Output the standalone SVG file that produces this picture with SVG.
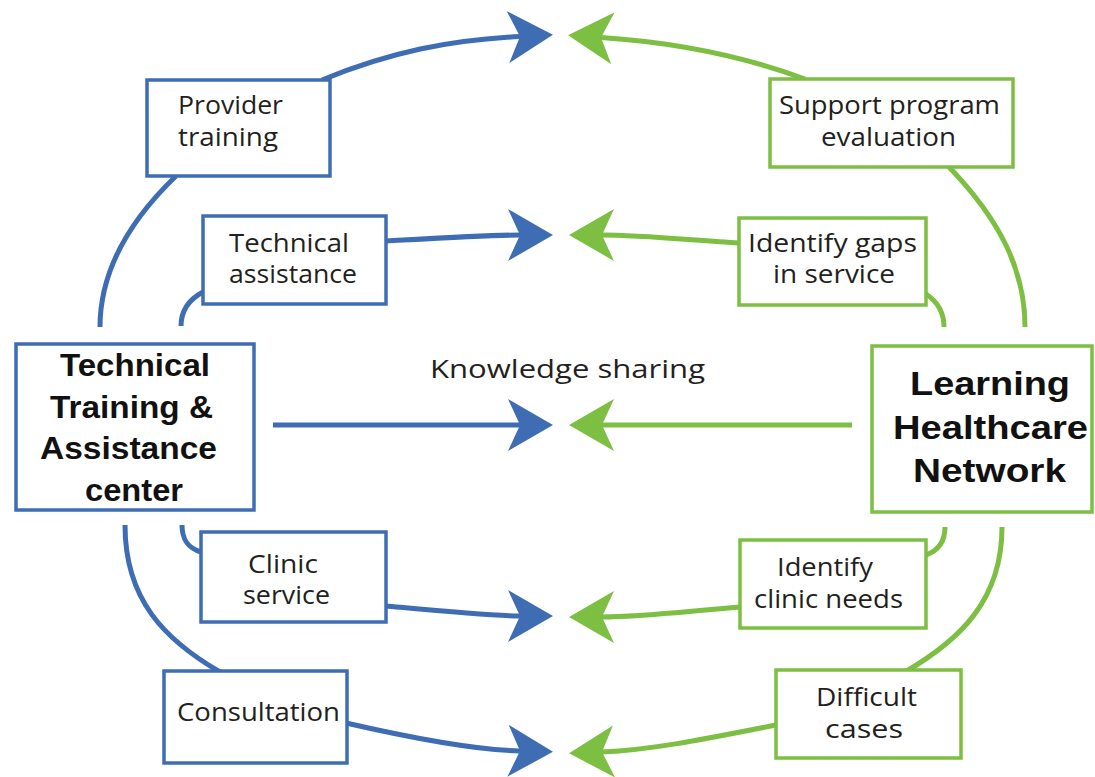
<svg xmlns="http://www.w3.org/2000/svg" width="1095" height="777" viewBox="0 0 1095 777">
<style>
.b{fill:#fff;stroke:#3e6db3;stroke-width:3.5}
.g{fill:#fff;stroke:#7cbf43;stroke-width:3.5}
.bl{fill:none;stroke:#3e6db3;stroke-width:5}
.gl{fill:none;stroke:#7cbf43;stroke-width:5}
.t{font-family:"Open Sans","Noto Sans",sans-serif;font-size:25px;fill:#231f20}
.h{font-family:"Liberation Sans",Arial,sans-serif;font-weight:bold;fill:#111}
</style>
<defs>
<marker id="ab" markerUnits="userSpaceOnUse" markerWidth="50" markerHeight="56" refX="12" refY="26" orient="auto" viewBox="0 0 50 56" overflow="visible">
<path d="M0,0 L45,26 L0,52 L12,26 Z" fill="#3e6db3"/>
</marker>
<marker id="ag" markerUnits="userSpaceOnUse" markerWidth="50" markerHeight="56" refX="12" refY="26" orient="auto" viewBox="0 0 50 56" overflow="visible">
<path d="M0,0 L45,26 L0,52 L12,26 Z" fill="#7cbf43"/>
</marker>
</defs>
<rect width="1095" height="777" fill="#fff"/>
<g id="connectors">
<path class="bl" d="M322,80 C390,52 450,40 520,36.5" marker-end="url(#ab)"/>
<path class="gl" d="M805,79 C740,55 670,42 601,37.5" marker-end="url(#ag)"/>
<path class="bl" d="M386,241 C440,238 490,235 520,235" marker-end="url(#ab)"/>
<path class="gl" d="M739,243 C690,240 640,235 602,235" marker-end="url(#ag)"/>
<path class="bl" d="M273,425 L520,425" marker-end="url(#ab)"/>
<path class="gl" d="M852,425 L602,425" marker-end="url(#ag)"/>
<path class="bl" d="M386,606 C450,612 490,616 520,616" marker-end="url(#ab)"/>
<path class="gl" d="M740,607 C680,612 640,617 602,617" marker-end="url(#ag)"/>
<path class="bl" d="M346,723 C420,740 480,750 520,751" marker-end="url(#ab)"/>
<path class="gl" d="M776,725 C700,740 650,750 602,752" marker-end="url(#ag)"/>
<path class="bl" d="M176,176 C125,225 100,275 100,327"/>
<path class="bl" d="M203,292 C188,300 181,312 181,326"/>
<path class="bl" d="M125,525 C125,600 165,640 220,672"/>
<path class="bl" d="M182,525 C182,540 188,548 201,552"/>
<path class="gl" d="M949,167 C1000,220 1025,270 1025,327"/>
<path class="gl" d="M926,294 C938,302 944,312 944,327"/>
<path class="gl" d="M1002,527 C1002,600 960,640 905,672"/>
<path class="gl" d="M945,527 C945,540 940,550 926,555"/>
</g>
<g id="provider-training">
<rect class="b" x="147" y="80" width="183" height="96"/>
<text class="t" x="178" y="114" textLength="105" lengthAdjust="spacingAndGlyphs">Provider</text>
<text class="t" x="178" y="146" textLength="100" lengthAdjust="spacingAndGlyphs">training</text>
</g>
<g id="technical-assistance">
<rect class="b" x="203" y="216" width="183" height="88"/>
<text class="t" x="229" y="252" textLength="120" lengthAdjust="spacingAndGlyphs">Technical</text>
<text class="t" x="229" y="283" textLength="128" lengthAdjust="spacingAndGlyphs">assistance</text>
</g>
<g id="tta-center">
<rect class="b" x="16" y="344" width="238" height="166" stroke-width="4"/>
<text class="h" font-size="31" x="60" y="376" textLength="150" lengthAdjust="spacingAndGlyphs">Technical</text>
<text class="h" font-size="31" x="50" y="418" textLength="163" lengthAdjust="spacingAndGlyphs">Training &amp;</text>
<text class="h" font-size="31" x="40" y="459" textLength="177" lengthAdjust="spacingAndGlyphs">Assistance</text>
<text class="h" font-size="31" x="85" y="501" textLength="98" lengthAdjust="spacingAndGlyphs">center</text>
</g>
<g id="knowledge-sharing">
<text class="t" font-size="28" x="430" y="378" textLength="275" lengthAdjust="spacingAndGlyphs">Knowledge sharing</text>
</g>
<g id="clinic-service">
<rect class="b" x="201" y="532" width="185" height="90"/>
<text class="t" x="248" y="573" textLength="70" lengthAdjust="spacingAndGlyphs">Clinic</text>
<text class="t" x="243" y="604" textLength="87" lengthAdjust="spacingAndGlyphs">service</text>
</g>
<g id="consultation">
<rect class="b" x="164" y="671" width="183" height="92"/>
<text class="t" x="177" y="721" textLength="163" lengthAdjust="spacingAndGlyphs">Consultation</text>
</g>
<g id="support-program-evaluation">
<rect class="g" x="770" y="79" width="243" height="88"/>
<text class="t" x="779" y="114" textLength="221" lengthAdjust="spacingAndGlyphs">Support program</text>
<text class="t" x="821" y="146" textLength="135" lengthAdjust="spacingAndGlyphs">evaluation</text>
</g>
<g id="identify-gaps">
<rect class="g" x="739" y="218" width="187" height="87"/>
<text class="t" x="748" y="252" textLength="169" lengthAdjust="spacingAndGlyphs">Identify gaps</text>
<text class="t" x="773" y="283" textLength="122" lengthAdjust="spacingAndGlyphs">in service</text>
</g>
<g id="learning-healthcare-network">
<rect class="g" x="872" y="346" width="220" height="166" stroke-width="4"/>
<text class="h" font-size="34" x="910" y="395" textLength="160" lengthAdjust="spacingAndGlyphs">Learning</text>
<text class="h" font-size="34" x="893" y="439" textLength="195" lengthAdjust="spacingAndGlyphs">Healthcare</text>
<text class="h" font-size="34" x="913" y="482" textLength="153" lengthAdjust="spacingAndGlyphs">Network</text>
</g>
<g id="identify-clinic-needs">
<rect class="g" x="740" y="540" width="186" height="88"/>
<text class="t" x="777" y="576" textLength="96" lengthAdjust="spacingAndGlyphs">Identify</text>
<text class="t" x="754" y="608" textLength="149" lengthAdjust="spacingAndGlyphs">clinic needs</text>
</g>
<g id="difficult-cases">
<rect class="g" x="776" y="670" width="185" height="88"/>
<text class="t" x="816" y="706" textLength="101" lengthAdjust="spacingAndGlyphs">Difficult</text>
<text class="t" x="825" y="738" textLength="78" lengthAdjust="spacingAndGlyphs">cases</text>
</g>
</svg>
